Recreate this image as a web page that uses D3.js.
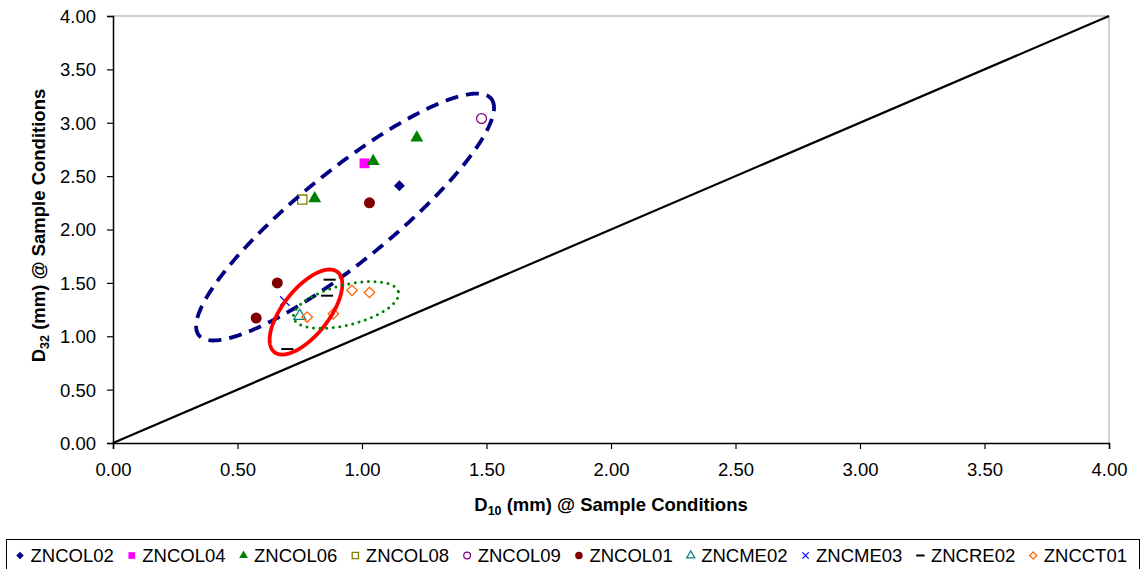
<!DOCTYPE html>
<html>
<head>
<meta charset="utf-8">
<script src="https://cdn.jsdelivr.net/npm/d3@7"></script>
<style>
  body { margin: 0; background: #fff; }
  text { font-family: "Liberation Sans", Arial, sans-serif; }
</style>
</head>
<body>
<svg id="chart" width="1145" height="569"></svg>
<script>
// ---- data ----
const seriesNames = ["ZNCOL02","ZNCOL04","ZNCOL06","ZNCOL08","ZNCOL09","ZNCOL01","ZNCME02","ZNCME03","ZNCRE02","ZNCCT01"];
const seriesColors = ["#000080","#FF00FF","#008000","#808000","#800080","#800000","#008080","#0000FF","#000000","#FF6600"];
const seriesShapes = ["diamond","square","triangle","squareOpen","circleOpen","circle","triangleOpen","cross","dash","diamondOpen"];
const seriesX = [
  [1.15],
  [1.01],
  [1.22, 1.045, 0.81],
  [0.76],
  [1.48],
  [1.03, 0.66, 0.575],
  [0.75],
  [0.69],
  [0.87, 0.86, 0.70],
  [0.78, 0.885, 0.96, 1.03]
];
const seriesY = [
  [2.41],
  [2.62],
  [2.86, 2.64, 2.29],
  [2.28],
  [3.04],
  [2.25, 1.50, 1.17],
  [1.19],
  [1.33],
  [1.53, 1.38, 0.88],
  [1.18, 1.21, 1.43, 1.41]
];
const xTicks = [0, 0.5, 1, 1.5, 2, 2.5, 3, 3.5, 4];
const yTicks = [0, 0.5, 1, 1.5, 2, 2.5, 3, 3.5, 4];
const refLineX = [0, 4];
const refLineY = [0, 4];
// annotation ellipses (data coordinates: center, two semi-axis vectors)
const ellipseCenters = [[0.932, 2.117], [0.775, 1.227], [0.936, 1.293]];
const ellipseAxisU = [[0.587, 1.108], [0.1266, 0.3755], [0.2104, 0.1227]];
const ellipseAxisV = [[0.1150, -0.332], [0.0726, -0.1331], [0.0194, -0.1817]];
const ellipseStyles = ["dashed", "solid", "dotted"];

// ---- layout ----
const svg = d3.select("#chart");
const x = d3.scaleLinear().domain([0, 4]).range([113, 1109]);
const y = d3.scaleLinear().domain([0, 4]).range([443, 16]);

// plot frame (top/right gray)
svg.append("line").attr("x1", x(0)).attr("x2", x(4)).attr("y1", y(4)).attr("y2", y(4))
  .attr("stroke", "#a0a0a0").attr("stroke-width", 1);
svg.append("line").attr("x1", x(4)).attr("x2", x(4)).attr("y1", y(4)).attr("y2", y(0))
  .attr("stroke", "#a0a0a0").attr("stroke-width", 1);

const fmt = d3.format(".2f");
const xAxis = svg.append("g").attr("transform", `translate(0,${y(0)})`)
  .call(d3.axisBottom(x).tickValues(xTicks).tickFormat(fmt).tickSize(6).tickPadding(14));
const yAxis = svg.append("g").attr("transform", `translate(${x(0)},0)`)
  .call(d3.axisLeft(y).tickValues(yTicks).tickFormat(fmt).tickSize(6).tickPadding(11));
[xAxis, yAxis].forEach(a => {
  a.attr("font-size", 18.5).attr("font-family", "'Liberation Sans', Arial, sans-serif");
  a.select(".domain").attr("stroke", "#000").attr("stroke-width", 1.5);
  a.selectAll(".tick line").attr("stroke", "#000").attr("stroke-width", 1.2);
  a.selectAll(".tick text").attr("font-size", 18.5).attr("fill", "#000");
});
yAxis.selectAll(".tick text").attr("dy", "0.35em");

// axis titles
const xt = svg.append("text").attr("x", (x(0) + x(4)) / 2).attr("y", 511)
  .attr("text-anchor", "middle").attr("font-size", 18.5).attr("font-weight", "bold");
xt.append("tspan").text("D");
xt.append("tspan").text("10").attr("font-size", 12.5).attr("dy", 4);
xt.append("tspan").text(" (mm) @ Sample Conditions").attr("dy", -4);

const yt = svg.append("text").attr("transform", `translate(45,${(y(0) + y(4)) / 2 - 4}) rotate(-90)`)
  .attr("text-anchor", "middle").attr("font-size", 18.5).attr("font-weight", "bold");
yt.append("tspan").text("D");
yt.append("tspan").text("32").attr("font-size", 12.5).attr("dy", 4);
yt.append("tspan").text(" (mm) @ Sample Conditions").attr("dy", -4);

// reference line
svg.append("line")
  .attr("x1", x(refLineX[0])).attr("y1", y(refLineY[0]))
  .attr("x2", x(refLineX[1])).attr("y2", y(refLineY[1]))
  .attr("stroke", "#000").attr("stroke-width", 2.2);

// marker drawing
function drawMarker(g, shape, color, cx, cy, s) {
  const sym = (type, size) => d3.symbol().type(type).size(size)();
  switch (shape) {
    case "diamond":
      g.append("path").attr("d", sym(d3.symbolSquare, s * s * 0.5))
        .attr("transform", `translate(${cx},${cy}) rotate(45)`).attr("fill", color);
      break;
    case "diamondOpen":
      g.append("path").attr("d", sym(d3.symbolSquare, s * s * 0.45))
        .attr("transform", `translate(${cx},${cy}) rotate(45)`).attr("fill", "none")
        .attr("stroke", color).attr("stroke-width", 1.3);
      break;
    case "square":
      g.append("path").attr("d", sym(d3.symbolSquare, s * s * 0.8))
        .attr("transform", `translate(${cx},${cy})`).attr("fill", color);
      break;
    case "squareOpen":
      g.append("path").attr("d", sym(d3.symbolSquare, s * s * 0.7))
        .attr("transform", `translate(${cx},${cy})`).attr("fill", "none")
        .attr("stroke", color).attr("stroke-width", 1.3);
      break;
    case "triangle":
      g.append("path").attr("d", sym(d3.symbolTriangle, s * s * 0.6))
        .attr("transform", `translate(${cx},${cy})`).attr("fill", color);
      break;
    case "triangleOpen":
      g.append("path").attr("d", sym(d3.symbolTriangle, s * s * 0.5))
        .attr("transform", `translate(${cx},${cy})`).attr("fill", "none")
        .attr("stroke", color).attr("stroke-width", 1.2);
      break;
    case "circle":
      g.append("circle").attr("cx", cx).attr("cy", cy).attr("r", s * 0.5).attr("fill", color);
      break;
    case "circleOpen":
      g.append("circle").attr("cx", cx).attr("cy", cy).attr("r", s * 0.45)
        .attr("fill", "none").attr("stroke", color).attr("stroke-width", 1.2);
      break;
    case "cross":
      g.append("path").attr("d", sym(d3.symbolTimes, s * s * 0.5))
        .attr("transform", `translate(${cx},${cy})`).attr("fill", "none")
        .attr("stroke", color).attr("stroke-width", 1.2);
      break;
    case "dash":
      g.append("line").attr("x1", cx - s * 0.55).attr("x2", cx + s * 0.55)
        .attr("y1", cy).attr("y2", cy).attr("stroke", color).attr("stroke-width", 2);
      break;
  }
}

// points
const pts = svg.append("g");
seriesNames.forEach((name, i) => {
  seriesX[i].forEach((vx, j) => {
    drawMarker(pts, seriesShapes[i], seriesColors[i], x(vx), y(seriesY[i][j]), 11);
  });
});

// annotation ellipses
const ellipseLine = d3.line().curve(d3.curveLinearClosed);
const ellipseStroke = { dashed: "#000080", solid: "#FF0000", dotted: "#008000" };
ellipseCenters.forEach((c, k) => {
  const u = ellipseAxisU[k], v = ellipseAxisV[k];
  const p = d3.range(0, 360, 1).map(deg => {
    const t = deg * Math.PI / 180;
    return [x(c[0] + u[0] * Math.cos(t) + v[0] * Math.sin(t)),
            y(c[1] + u[1] * Math.cos(t) + v[1] * Math.sin(t))];
  });
  const path = svg.append("path").attr("d", ellipseLine(p)).attr("fill", "none")
    .attr("stroke", ellipseStroke[ellipseStyles[k]]);
  if (ellipseStyles[k] === "dashed") {
    path.attr("stroke-width", 3.8).attr("stroke-dasharray", "13,8");
  } else if (ellipseStyles[k] === "solid") {
    path.attr("stroke-width", 3.8);
  } else {
    path.attr("stroke-width", 3).attr("stroke-linecap", "round").attr("stroke-dasharray", "0,6.6");
  }
});

// legend
const lg = svg.append("g");
lg.append("rect").attr("x", 6.5).attr("y", 539.5).attr("width", 1133).attr("height", 40)
  .attr("fill", "#fff").attr("stroke", "#000").attr("stroke-width", 1);
let lx = 20;
seriesNames.forEach((name, i) => {
  drawMarker(lg, seriesShapes[i], seriesColors[i], lx, 555.5, 7.5);
  const t = lg.append("text").attr("x", lx + 10.5).attr("y", 562).attr("font-size", 18.5).text(name);
  const w = t.node().getComputedTextLength();
  lx = lx + 10.5 + w + 18;
});
</script>
</body>
</html>
